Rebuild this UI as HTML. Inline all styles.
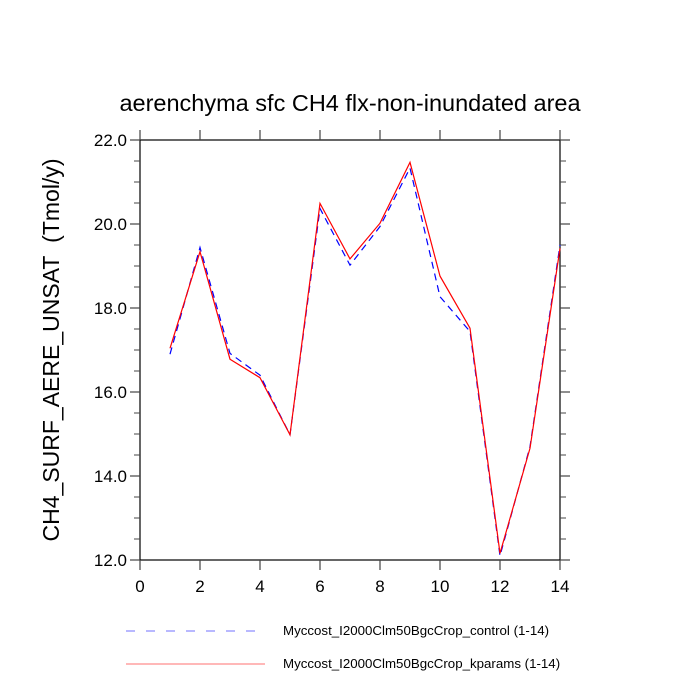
<!DOCTYPE html>
<html><head><meta charset="utf-8"><style>
html,body{margin:0;padding:0;background:#fff;}
svg{display:block;font-family:"Liberation Sans",sans-serif;}
</style></head><body>
<svg id="chart" width="700" height="700" viewBox="0 0 700 700" xmlns="http://www.w3.org/2000/svg">
<text x="350" y="111" font-size="23.5" text-anchor="middle">aerenchyma sfc CH4 flx-non-inundated area</text>
<text transform="translate(59,350) rotate(-90)" font-size="23" text-anchor="middle">CH4_SURF_AERE_UNSAT&#160; (Tmol/y)</text>
<g id="axes"></g>
<g id="series"></g>
<g>
<line x1="126" y1="631" x2="262" y2="631" stroke="#7070ff" stroke-width="1" stroke-dasharray="9,11"/>
<text x="283" y="635" font-size="13.3">Myccost_I2000Clm50BgcCrop_control (1-14)</text>
<line x1="126" y1="664" x2="265" y2="664" stroke="#ff7070" stroke-width="1"/>
<text x="283" y="668" font-size="13.3">Myccost_I2000Clm50BgcCrop_kparams (1-14)</text>
</g>
</svg>
<script>
const months = [1,2,3,4,5,6,7,8,9,10,11,12,13,14];
const controlValues = [16.9,19.44,16.92,16.4,14.98,20.37,19.02,19.94,21.33,18.27,17.44,12.1,14.7,19.5];
const kparamsValues = [17.04,19.34,16.78,16.34,14.98,20.49,19.17,20.02,21.47,18.76,17.52,12.16,14.66,19.42];
const xTicks = [0,2,4,6,8,10,12,14];
const yTicks = ["12.0","14.0","16.0","18.0","20.0","22.0"];
const NS="http://www.w3.org/2000/svg";
const L=140,R=560,T=140,B=560,xMin=0,xMax=14,yMin=12,yMax=22;
const xs=v=>L+(v-xMin)/(xMax-xMin)*(R-L);
const ys=v=>B-(v-yMin)/(yMax-yMin)*(B-T);
const axes=document.getElementById('axes');
function mk(tag,attrs,parent){const e=document.createElementNS(NS,tag);for(const k in attrs)e.setAttribute(k,attrs[k]);parent.appendChild(e);return e;}
const frame=mk('rect',{x:L,y:T,width:R-L,height:B-T,fill:'none',stroke:'#000','stroke-width':1.2},axes);


const tc='#444';
xTicks.forEach(v=>{
  const x=xs(v);
  const t1=mk('line',{x1:x,y1:B,x2:x,y2:B+10,stroke:tc,'stroke-width':1.2},axes);
  
  
  const t2=mk('line',{x1:x,y1:T,x2:x,y2:T-10,stroke:tc,'stroke-width':1.2},axes);
  
  
  const lb=mk('text',{x:x,y:B+32,'font-size':17,'text-anchor':'middle'},axes);
  lb.textContent=v;
  
  
});
for(let v=yMin;v<=yMax+1e-9;v+=0.5){
  const y=ys(v);const major=Math.abs(v-Math.round(v/2)*2)<1e-9;
  const len=major?10:6;
  const a=mk('line',{x1:L,y1:y,x2:L-len,y2:y,stroke:tc,'stroke-width':major?1.2:1},axes);
  
  
  const b=mk('line',{x1:R,y1:y,x2:R+len,y2:y,stroke:tc,'stroke-width':major?1.2:1},axes);
  
  
}
yTicks.forEach(s=>{
  const lb=mk('text',{x:L-13,y:ys(parseFloat(s))+6,'font-size':17,'text-anchor':'end'},axes);
  lb.textContent=s;
  
  
});
const series=document.getElementById('series');
function line(vals,color,dash,name){
  const d=vals.map((v,i)=>(i?'L':'M')+xs(months[i]).toFixed(1)+','+ys(v).toFixed(1)).join(' ');
  const p=mk('path',{d:d,fill:'none',stroke:color,'stroke-width':1.2},series);
  if(dash)p.setAttribute('stroke-dasharray',dash);
  
  
}
line(controlValues,'#0000ff','7,5','control-line');
line(kparamsValues,'#ff0000',null,'kparams-line');
</script>
</body></html>
